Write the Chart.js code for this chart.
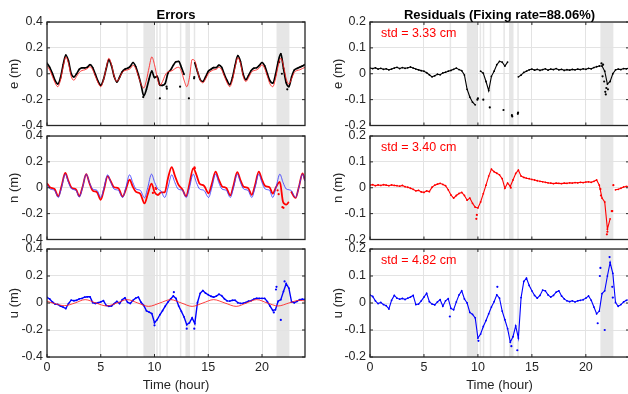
<!DOCTYPE html>
<html>
<head>
<meta charset="utf-8">
<script src="https://cdn.jsdelivr.net/npm/chart.js@4.4.1/dist/chart.umd.min.js"></script>
<style>
  html, body { margin: 0; padding: 0; background: #fff; overflow: hidden; width: 628px; height: 394px; }
  canvas { position: absolute; }
</style>
</head>
<body>
<canvas id="errE"></canvas>
<canvas id="errN"></canvas>
<canvas id="errU"></canvas>
<canvas id="resE"></canvas>
<canvas id="resN"></canvas>
<canvas id="resU"></canvas>
<script>
// ---- data (hours, metres) ----
const hours = [
  0,0.25,0.5,0.75, 1,1.25,1.5,1.75, 2,2.25,2.5,2.75, 3,3.25,3.5,3.75,
  4,4.25,4.5,4.75, 5,5.25,5.5,5.75, 6,6.25,6.5,6.75, 7,7.25,7.5,7.75,
  8,8.25,8.5,8.75, 9,9.25,9.5,9.75, 10,10.25,10.5,10.75, 11,11.25,11.5,11.75,
  12,12.25,12.5,12.75, 13,13.25,13.5,13.75, 14,14.25,14.5,14.75, 15,15.25,15.5,15.75,
  16,16.25,16.5,16.75, 17,17.25,17.5,17.75, 18,18.25,18.5,18.75, 19,19.25,19.5,19.75,
  20,20.25,20.5,20.75, 21,21.25,21.5,21.75, 22,22.25,22.5,22.75, 23,23.25,23.5,23.75, 24];

const xTicks = [0, 5, 10, 15, 20];
const errTicks = [-0.4, -0.2, 0, 0.2, 0.4];
const resTicks = [-0.2, -0.1, 0, 0.1, 0.2];

// shaded periods (hours)
const bands = [[7.38,7.46],[8.97,10.0],[10.16,10.24],[10.45,10.52],[11.1,11.17],
               [12.36,12.44],[12.88,13.3],[13.65,13.72],[21.35,22.55]];

// East: model (red) and error (black)
const eModel = [
  0.06,0.03,-0.02,-0.07, -0.10,-0.05,0.05,0.13, 0.08,-0.02,-0.05,-0.02, 0.01,0.025,0.03,0.04,
  0.055,0.03,-0.02,-0.07, -0.10,-0.05,0.04,0.12, 0.07,-0.02,-0.06,-0.03, 0.01,0.025,0.03,0.04,
  0.065,0.04,-0.02,-0.08, -0.11,-0.05,0.05,0.13, 0.07,-0.03,-0.09,-0.06, -0.01,0.015,0.02,0.03,
  0.045,0.05,0.02,-0.05, -0.10,-0.03,0.11,0.10, 0.02,-0.05,-0.07,-0.04, 0.0,0.02,0.03,0.035,
  0.05,0.03,-0.02,-0.07, -0.10,-0.05,0.05,0.125, 0.08,-0.02,-0.06,-0.03, 0.01,0.025,0.03,0.045,
  0.07,0.04,-0.02,-0.08, -0.10,-0.04,0.06,0.12, 0.06,-0.04,-0.08,-0.04, 0.01,0.025,0.03,0.04, 0.05];
const eErr = [
  0.082,0.050,0.003,-0.052, -0.079,-0.033,0.069,0.145, 0.098,0.002,-0.025,0.0, 0.034,0.046,0.045,0.05,
  0.07,0.048,-0.005,-0.058, -0.09,-0.046,0.036,0.108, 0.062,-0.022,-0.064,-0.027, 0.016,0.035,0.043,0.057,
  0.087,0.056,-0.008,-0.085, -0.17,-0.12,-0.04,0.02, -0.03,-0.02,-0.088,-0.09, -0.075,0.005,0.03,0.065,
  0.093,0.095,0.05,-0.005, null,null,null,0.085, 0.015,-0.045,-0.06,-0.025, 0.018,0.034,0.047,0.048,
  0.066,0.049,-0.006,-0.052, -0.084,-0.03,0.065,0.14, 0.093,-0.004,-0.046,-0.013, 0.025,0.043,0.046,0.064,
  0.087,0.061,-0.001,-0.056, -0.073,-0.01,0.09,0.155, 0.04,-0.07,-0.10,-0.025, 0.028,0.041,0.05,0.059, 0.072];
const eErrOut = [[8.95,-0.18],[10.5,-0.19],[11.12,-0.1],[11.15,-0.115],[12.38,-0.1],[13.2,-0.19],
                 [13.68,-0.035],[13.7,-0.025],[21.6,0.09],[21.85,0.0],[22.35,-0.12]];
const eRes = [
  0.022,0.020,0.023,0.018, 0.021,0.017,0.019,0.015, 0.018,0.022,0.025,0.020, 0.024,0.021,0.023,0.026,
  0.022,0.018,0.015,0.012, 0.010,0.004,-0.004,-0.012, -0.008,-0.002,-0.004,0.003, 0.006,0.010,0.013,0.017,
  0.022,0.016,0.012,-0.005, -0.060,-0.090,-0.110,-0.120, null,0.010,0.002,-0.030, -0.065,-0.010,0.010,0.035,
  0.048,0.045,0.030,0.045, null,null,null,-0.012, -0.005,0.005,0.010,0.015, 0.018,0.014,0.017,0.013,
  0.016,0.019,0.014,0.018, 0.016,0.020,0.015,0.017, 0.013,0.016,0.014,0.017, 0.015,0.018,0.016,0.019,
  0.017,0.021,0.019,0.024, 0.027,0.030,0.030,0.010, -0.040,-0.030,0.000,0.015, 0.018,0.016,0.020,0.019, 0.022];
const eResOut = [[9.95,-0.1],[10.0,-0.095],[10.5,-0.1],[11.1,-0.13],[12.37,-0.14],[13.15,-0.16],[13.18,-0.165],
                 [13.7,-0.155],[13.72,-0.15],[21.45,0.04],[21.55,-0.01],[21.6,0.035],[21.7,-0.03],
                 [21.8,-0.07],[21.85,-0.08],[21.9,-0.055],[22.05,-0.06]];

// North: model (blue) and error (red), read at the turning points
const nT = [
  0,0.3,0.7,
  1.05,1.35,1.7,2.0,2.3,2.7,
  3.0,3.3,3.65,3.95,4.25,4.65,
  5.0,5.3,5.64,5.94,6.24,6.64,
  7.03,7.33,7.68,7.98,8.28,8.68,
  9.07,9.37,9.72,10.02,10.32,10.6,
  10.95,11.25,11.6,11.9,12.2,12.6,
  12.95,13.25,13.6,13.9,14.2,14.6,
  15.03,15.33,15.68,15.98,16.28,16.68,
  17.05,17.35,17.7,18.0,18.3,18.7,
  19.05,19.35,19.7,20.0,20.3,20.7,
  21.0,21.3,21.66,21.96,22.26,22.5,22.6,22.7,
  23.12,23.42,23.77,24.0];
const nModel = [
  0.025,-0.01,-0.02,
  -0.075,0.0,0.105,0.04,-0.01,-0.02,
  -0.072,0.0,0.105,0.04,-0.01,-0.02,
  -0.075,0.0,0.10,0.04,-0.01,-0.02,
  -0.075,0.0,0.10,0.04,-0.01,-0.02,
  -0.078,0.0,0.105,0.04,-0.01,-0.025,
  -0.075,0.0,0.10,0.04,-0.01,-0.02,
  -0.075,0.0,0.105,0.04,-0.01,-0.02,
  -0.075,0.0,0.105,0.04,-0.01,-0.02,
  -0.075,0.0,0.105,0.04,-0.01,-0.02,
  -0.075,0.0,0.105,0.04,-0.01,-0.02,
  -0.075,0.0,0.105,0.04,-0.01,-0.015,-0.018,-0.02,
  -0.075,0.0,0.105,0.05];
const nErr = [
  0.035,0.002,-0.01,
  -0.066,0.011,0.114,0.051,-0.001,-0.013,
  -0.066,0.004,0.105,0.035,-0.022,-0.034,
  -0.093,-0.013,0.09,0.048,0.004,-0.004,
  -0.068,-0.015,0.062,0.009,-0.032,-0.047,
  -0.121,-0.05,0.032,-0.036,-0.056,-0.035,
  -0.035,0.072,0.16,0.093,0.028,-0.014,
  -0.067,0.03,0.15,0.10,0.031,0.016,
  -0.043,0.029,0.125,0.063,0.011,-0.002,
  -0.059,0.018,0.121,0.058,0.007,-0.002,
  -0.055,0.019,0.125,0.062,0.013,0.004,
  -0.045,0.005,0.045,-0.11,-0.13,-0.11,null,-0.028,
  -0.079,0.002,0.11,0.056];
const nErrOut = [[13.72,0.158],[13.75,0.15],[9.85,-0.04],[10.1,0.0],[10.15,-0.01],
                 [21.45,-0.02],[21.55,-0.05],[21.9,-0.15],[22.0,-0.155]];
const nRes = [
  0.010,0.012,0.008,0.011, 0.009,0.012,0.010,0.008, 0.011,0.009,0.008,0.006, 0.009,0.004,0.002,-0.002,
  -0.006,-0.012,-0.010,-0.016, -0.018,-0.012,-0.015,0.002, 0.010,0.014,0.017,0.013, 0.008,-0.008,-0.028,-0.040,
  -0.030,-0.022,-0.018,-0.030, -0.048,-0.040,-0.060,-0.075, -0.078,-0.055,-0.023,0.010, 0.045,0.072,0.062,0.056,
  0.050,0.035,-0.002,0.018, 0.005,0.030,0.055,0.068, 0.045,0.040,0.037,0.035, 0.032,0.030,0.027,0.025,
  0.023,0.021,0.019,0.018, 0.016,0.018,0.017,0.016, 0.018,0.017,0.019,0.018, 0.020,0.019,0.021,0.020,
  0.022,0.023,0.021,0.025, 0.030,0.010,-0.040,-0.055, -0.160,-0.120,null,-0.008, -0.006,-0.002,0.003,0.005, 0.006];
const nResOut = [[9.85,-0.12],[9.9,-0.105],[13.05,0.0],[21.35,-0.005],[21.4,-0.03],[21.95,-0.18],
                 [22.0,-0.17],[22.4,-0.09],[22.45,-0.09],[22.55,0.01]];

// Up: model (red) at turning points, error (blue) and residual on the hour grid
const uT = [0,0.8,1.6,2.6,3.55,4.55,5.55,6.5,7.45,8.45,9.45,10.5,11.5,12.5,13.5,14.5,15.5,16.55,17.6,18.55,19.5,20.5,21.5,22.5,23.5,24];
const uModel = [0.012,-0.006,-0.02,0.0,0.025,0.0,-0.022,0.0,0.025,0.0,-0.025,0.0,0.025,0.0,-0.025,0.0,0.025,0.0,-0.025,0.0,0.025,0.0,-0.022,0.0,0.02,0.015];
const uErr = [
  0.042,0.030,0.008,-0.008, -0.010,-0.023,-0.030,-0.041, -0.004,0.021,0.017,0.020, 0.031,0.034,0.043,0.046,
  0.046,0.003,-0.003,0.002, 0.008,0.017,-0.017,-0.024, -0.022,-0.004,0.012,-0.004, 0.024,0.038,0.005,-0.003,
  0.020,0.036,0.043,0.005, -0.018,-0.058,-0.067,-0.078, -0.146,-0.123,-0.087,-0.057, -0.024,0.007,0.030,0.052,
  0.034,-0.022,-0.062,-0.103, -0.161,-0.147,-0.110,-0.152, 0.004,0.072,0.092,0.073, 0.061,0.050,0.043,0.051,
  0.065,0.054,0.031,0.016, 0.014,0.020,0.020,0.002, -0.003,-0.001,0.004,0.014, 0.018,0.029,0.035,0.034,
  0.034,0.034,0.010,-0.023, -0.055,-0.050,0.013,0.025, 0.086,0.143,0.110,0.009, 0.002,0.012,0.024,0.028, 0.027];
const uErrOut = [[10.0,-0.165],[11.8,0.08],[13.0,-0.19],[13.7,-0.19],[21.1,-0.07],[21.3,0.1],
                 [21.35,0.12],[21.75,-0.125],[22.1,0.16]];
const uRes = [
  0.030,0.024,0.008,-0.002, 0.002,-0.006,-0.010,-0.022, 0.010,0.028,0.018,0.014, 0.017,0.013,0.018,0.022,
  0.028,-0.006,-0.004,0.008, 0.022,0.036,0.005,-0.004, -0.007,0.004,0.012,-0.012, 0.008,0.016,-0.020,-0.025,
  0.004,0.030,0.045,0.015, 0.000,-0.035,-0.042,-0.055, -0.130,-0.115,-0.087,-0.065, -0.040,-0.015,0.005,0.030,
  0.018,-0.030,-0.062,-0.095, -0.145,-0.125,-0.085,-0.130, 0.020,0.080,0.092,0.065, 0.045,0.028,0.018,0.028,
  0.048,0.045,0.030,0.022, 0.028,0.040,0.045,0.026, 0.015,0.008,0.005,0.008, 0.004,0.008,0.010,0.012,
  0.018,0.026,0.010,-0.015, -0.040,-0.030,0.035,0.045, 0.100,0.150,0.110,0.002, -0.012,-0.006,0.004,0.010, 0.012];
const uResOut = [[7.4,-0.05],[10.05,-0.14],[11.8,0.06],[13.1,-0.16],[13.65,-0.175],[21.1,-0.075],
                 [21.3,0.1],[21.35,0.13],[21.75,-0.1],[22.2,0.17],[22.45,0.06],[22.5,0.02]];

// ---- drawing ----
const FONT = "'Liberation Sans', Arial, Helvetica, sans-serif";
const AXIS = '#262626';

const pts = (ts, vs) => ts.map((t, i) => ({ x: t, y: vs[i] }));
const pairs = arr => arr.map(p => ({ x: p[0], y: p[1] }));

const cols = {
  L: { left: 0, width: 312, yW: 47, padR: 7, titlePad: 6.5 },
  R: { left: 320, width: 330, yW: 50, padR: 21, titlePad: 10.5 }
};
const rows = {
  1: { top: 0, height: 137, padT: 22, padB: 8, xH: 0 },
  2: { top: 124, height: 127, padT: 12, padB: 8, xH: 0 },
  3: { top: 237, height: 160, padT: 12, padB: 0, xH: 40 }
};

const panelPlugin = {
  id: 'panel',
  beforeDraw(chart) {
    const { ctx, chartArea: a, scales: { x } } = chart;
    ctx.save();
    ctx.fillStyle = '#e6e6e6';
    bands.forEach(([b0, b1]) => {
      const p0 = Math.max(a.left, x.getPixelForValue(b0));
      const p1 = Math.min(a.right, x.getPixelForValue(b1));
      if (p1 > p0) ctx.fillRect(p0, a.top, Math.max(p1 - p0, 1.5), a.bottom - a.top);
    });
    ctx.restore();
  },
  afterDraw(chart, args, opts) {
    const { ctx, chartArea: a, scales: { x, y } } = chart;
    ctx.save();
    ctx.strokeStyle = AXIS;
    ctx.lineWidth = 1;
    ctx.beginPath();
    x.ticks.forEach(t => {
      const p = x.getPixelForValue(t.value);
      ctx.moveTo(p, a.bottom); ctx.lineTo(p, a.bottom - 3);
      ctx.moveTo(p, a.top); ctx.lineTo(p, a.top + 3);
    });
    y.ticks.forEach(t => {
      const p = y.getPixelForValue(t.value);
      ctx.moveTo(a.left, p); ctx.lineTo(a.left + 3, p);
      ctx.moveTo(a.right, p); ctx.lineTo(a.right - 3, p);
    });
    ctx.stroke();
    ctx.lineWidth = 1.3;
    ctx.strokeRect(a.left, a.top, a.right - a.left, a.bottom - a.top);
    if (opts.title) {
      ctx.fillStyle = '#000';
      ctx.font = 'bold 13px ' + FONT;
      ctx.textAlign = 'center';
      ctx.textBaseline = 'middle';
      ctx.fillText(opts.title, (a.left + a.right) / 2, a.top - 7);
    }
    if (opts.std) {
      ctx.fillStyle = '#ff0000';
      ctx.font = '12.5px ' + FONT;
      ctx.textAlign = 'left';
      ctx.textBaseline = 'middle';
      ctx.fillText(opts.std, a.left + 11, a.top + 12);
    }
    ctx.restore();
  }
};

function lineSet(data, color, width, radius, smooth) {
  return {
    data, borderColor: color, backgroundColor: color, borderWidth: width,
    pointRadius: radius, pointBorderWidth: 0, pointBackgroundColor: color,
    spanGaps: false, cubicInterpolationMode: smooth ? 'monotone' : 'default', tension: 0
  };
}
function dotSet(data, color, radius) {
  return {
    data, showLine: false, pointRadius: radius, pointBorderWidth: 0,
    pointBackgroundColor: color, borderColor: color
  };
}

function makePanel(id, col, row, o) {
  const c = cols[col], r = rows[row];
  const cv = document.getElementById(id);
  cv.width = c.width; cv.height = r.height;
  cv.style.left = c.left + 'px'; cv.style.top = r.top + 'px';
  const bottom = row === 3;
  return new Chart(cv, {
    type: 'line',
    data: { datasets: o.datasets },
    plugins: [panelPlugin],
    options: {
      responsive: false, animation: false, devicePixelRatio: 1, events: [],
      layout: { padding: { top: r.padT, right: c.padR, bottom: r.padB, left: 0 } },
      plugins: {
        legend: { display: false }, tooltip: { enabled: false },
        panel: { title: o.title, std: o.std }
      },
      scales: {
        x: {
          type: 'linear', min: 0, max: 24,
          afterBuildTicks: s => { s.ticks = xTicks.map(v => ({ value: v })); },
          afterFit: s => { s.height = r.xH; },
          grid: { color: '#e3e3e3', lineWidth: 1, drawTicks: false },
          border: { display: false },
          ticks: { display: bottom, padding: 3.5, color: AXIS, font: { family: FONT, size: 12.5 }, maxRotation: 0 },
          title: { display: bottom, text: 'Time (hour)', color: AXIS, font: { family: FONT, size: 13 }, padding: { top: 0, bottom: 4.2 } }
        },
        y: {
          type: 'linear', min: o.ticks[0], max: o.ticks[o.ticks.length - 1],
          afterBuildTicks: s => { s.ticks = o.ticks.map(v => ({ value: v })); },
          afterFit: s => { s.width = c.yW; },
          grid: { color: '#e3e3e3', lineWidth: 1, drawTicks: false },
          border: { display: false },
          ticks: { padding: 4, color: AXIS, font: { family: FONT, size: 12.5 }, callback: v => String(v) },
          title: { display: true, text: o.yLabel, color: AXIS, font: { family: FONT, size: 13 }, padding: { top: c.titlePad, bottom: 0 } }
        }
      }
    }
  });
}

makePanel('errE', 'L', 1, {
  title: 'Errors', yLabel: 'e (m)', ticks: errTicks,
  datasets: [
    lineSet(pts(hours, eModel), 'rgba(255,30,30,0.95)', 0.9, 0, true),
    lineSet(pts(hours, eErr), '#000000', 1.7, 0.8, true),
    dotSet(pairs(eErrOut), '#000000', 1.1)
  ]
});
makePanel('errN', 'L', 2, {
  yLabel: 'n (m)', ticks: errTicks,
  datasets: [
    lineSet(pts(nT, nModel), 'rgba(60,60,255,0.85)', 1, 0, true),
    lineSet(pts(nT, nErr), '#ff0000', 1.8, 0, true),
    dotSet(pairs(nErrOut), '#ff0000', 1.1)
  ]
});
makePanel('errU', 'L', 3, {
  yLabel: 'u (m)', ticks: errTicks,
  datasets: [
    lineSet(pts(uT, uModel), 'rgba(255,30,30,0.95)', 0.9, 0, true),
    lineSet(pts(hours, uErr), '#0000ff', 1.4, 0.9, false),
    dotSet(pairs(uErrOut), '#0000ff', 1.1)
  ]
});
makePanel('resE', 'R', 1, {
  title: 'Residuals (Fixing rate=88.06%)', yLabel: 'e (m)', ticks: resTicks, std: 'std = 3.33 cm',
  datasets: [
    lineSet(pts(hours, eRes), '#000000', 1.1, 0.9, false),
    dotSet(pairs(eResOut), '#000000', 1.1)
  ]
});
makePanel('resN', 'R', 2, {
  yLabel: 'n (m)', ticks: resTicks, std: 'std = 3.40 cm',
  datasets: [
    lineSet(pts(hours, nRes), '#ff0000', 1.1, 0.9, false),
    dotSet(pairs(nResOut), '#ff0000', 1.1)
  ]
});
makePanel('resU', 'R', 3, {
  yLabel: 'u (m)', ticks: resTicks, std: 'std = 4.82 cm',
  datasets: [
    lineSet(pts(hours, uRes), '#0000ff', 1.1, 0.9, false),
    dotSet(pairs(uResOut), '#0000ff', 1.1)
  ]
});
</script>
</body>
</html>
